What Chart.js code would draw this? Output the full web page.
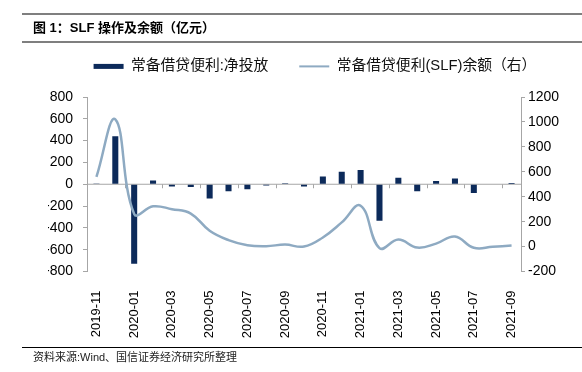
<!DOCTYPE html>
<html>
<head>
<meta charset="utf-8">
<script src="https://cdn.jsdelivr.net/npm/chart.js@4"></script>
<style>
  body { margin: 0; background: #fff; }
  #wrap { position: relative; width: 582px; height: 372px; overflow: hidden;
          font-family: 'Liberation Sans', Arial, 'Noto Sans CJK SC', sans-serif; }
  #title { position: absolute; left: 22px; top: 13px; width: 560px; height: 30px; box-sizing: border-box;
           border-top: 2px solid #7f7f7f; border-bottom: 2px solid #7f7f7f;
           font-weight: bold; font-size: 13px; line-height: 26px; padding-left: 11px; color: #000; }
  #source { position: absolute; left: 22px; top: 347px; width: 560px; box-sizing: border-box;
            border-top: 1px solid #000; font-size: 11px; line-height: 18px; padding-left: 11px; color: #222; }
  canvas { position: absolute; left: 0; top: 0; }
</style>
</head>
<body>
<div id="wrap">
  <canvas id="chart" width="582" height="372"></canvas>
  <div id="title">图 1：SLF 操作及余额（亿元）</div>
  <div id="source">资料来源:Wind、国信证券经济研究所整理</div>
</div>
<script>
const months = ['2019-11', '2019-12', '2020-01', '2020-02', '2020-03', '2020-04', '2020-05', '2020-06',
  '2020-07', '2020-08', '2020-09', '2020-10', '2020-11', '2020-12', '2021-01', '2021-02', '2021-03',
  '2021-04', '2021-05', '2021-06', '2021-07', '2021-08', '2021-09'];
// 常备借贷便利:净投放 (left axis)
const netInjection = [8, 440, -730, 35, -20, -25, -130, -65, -45, -12, 10, -20,
  70, 115, 130, -335, 60, -65, 30, 52, -80, 0, 12];
// 常备借贷便利(SLF)余额 (right axis)
const balance = [560, 1020, 262, 323, 300, 265, 127, 52, 11, 3, 16, 0,
  73, 194, 328, -12, 56, -8, 24, 81, -10, -2, 8];

Chart.defaults.font.family = "'Liberation Sans', Arial, 'Noto Sans CJK SC', sans-serif";
Chart.defaults.color = '#000';

const axisGrey = '#a6a6a6';
const lineColor = '#8eaac2';
const barColor = '#0c2a5a';

// horizontal axis line at zero, with tick marks every two months
const zeroAxis = {
  id: 'zeroAxis',
  beforeDatasetsDraw(chart) {
    const { ctx, chartArea, scales } = chart;
    const y0 = scales.y.getPixelForValue(0);
    const half = (scales.x.getPixelForValue(1) - scales.x.getPixelForValue(0)) / 2;
    ctx.save();
    ctx.strokeStyle = axisGrey;
    ctx.lineWidth = 1;
    ctx.beginPath();
    ctx.moveTo(chartArea.left, y0);
    ctx.lineTo(chartArea.right, y0);
    for (let i = 2; i < months.length; i += 2) {
      const px = Math.round(scales.x.getPixelForValue(i) - half) + 0.5;
      ctx.moveTo(px, y0);
      ctx.lineTo(px, y0 + 4);
    }
    ctx.stroke();
    ctx.restore();
  }
};

// make the legend taller so the plot starts lower
const legendSpace = {
  id: 'legendSpace',
  beforeInit(chart) {
    const fit = chart.legend.fit;
    chart.legend.fit = function () {
      fit.bind(chart.legend)();
      this.height = 69;
    };
  }
};

new Chart(document.getElementById('chart'), {
  type: 'bar',
  data: {
    labels: months,
    datasets: [
      {
        type: 'line',
        label: '常备借贷便利(SLF)余额（右）',
        data: balance,
        yAxisID: 'y1',
        borderColor: lineColor,
        backgroundColor: lineColor,
        borderWidth: 2.5,
        pointRadius: 0,
        tension: 0.42,
        order: 0
      },
      {
        label: '常备借贷便利:净投放',
        data: netInjection,
        yAxisID: 'y',
        backgroundColor: barColor,
        categoryPercentage: 0.8,
        barPercentage: 0.4,
        order: 1
      }
    ]
  },
  options: {
    responsive: false,
    animation: false,
    layout: { padding: { left: 48, right: 0, top: 28, bottom: 0 } },
    plugins: {
      tooltip: { enabled: false },
      legend: {
        position: 'top',
        reverse: true,
        labels: {
          usePointStyle: true,
          pointStyleWidth: 30,
          boxHeight: 5,
          padding: 31,
          color: '#111',
          font: { size: 14.8 },
          generateLabels(chart) {
            const items = Chart.defaults.plugins.legend.labels.generateLabels(chart);
            items.forEach(it => {
              if (it.text.indexOf('余额') >= 0) {
                it.pointStyle = 'line';
                it.lineWidth = 2;
                it.strokeStyle = lineColor;
              } else {
                it.pointStyle = 'rect';
                it.lineWidth = 0;
              }
            });
            return items;
          }
        }
      }
    },
    scales: {
      x: {
        grid: { display: false },
        border: { display: false },
        ticks: {
          autoSkip: false,
          maxRotation: 90,
          minRotation: 90,
          padding: 11,
          font: { size: 13 },
          callback: (v, i) => (i % 2 === 0 ? months[i] : '')
        },
        afterFit: (axis) => { axis.height = 100.5; }
      },
      y: {
        position: 'left',
        min: -800,
        max: 800,
        ticks: { stepSize: 200, padding: 10, font: { size: 14 }, callback: v => String(v) },
        grid: { drawOnChartArea: false, tickLength: 4, color: axisGrey },
        border: { color: axisGrey },
        afterFit: (axis) => { axis.width = 39; }
      },
      y1: {
        position: 'right',
        min: -200,
        max: 1200,
        ticks: { stepSize: 200, padding: 3, font: { size: 14 }, callback: v => String(v) },
        grid: { drawOnChartArea: false, tickLength: 4, color: axisGrey },
        border: { color: axisGrey },
        afterFit: (axis) => { axis.width = 61; }
      }
    }
  },
  plugins: [zeroAxis, legendSpace]
});
</script>
</body>
</html>
